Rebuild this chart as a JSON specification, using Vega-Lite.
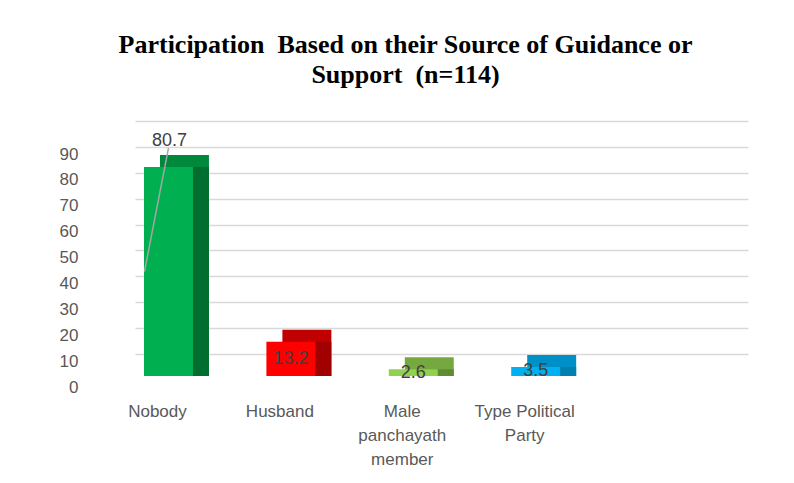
{
  "$schema": "https://vega.github.io/schema/vega-lite/v6.json",
  "autosize": {"type": "none"},
  "padding": {"left": 135, "top": 121, "right": 46, "bottom": 129},
  "width": 613,
  "height": 233,
  "background": "white",
  "title": {
    "text": ["Participation\u00a0 Based on their Source of Guidance or", "Support\u00a0 (n=114)"],
    "font": "Liberation Serif",
    "fontSize": 26,
    "fontWeight": "bold",
    "color": "#000000",
    "anchor": "middle",
    "frame": "group",
    "dx": -36,
    "lineHeight": 30,
    "offset": 33
  },
  "data": {
    "values": [
      {"category": "Nobody", "value": 80.7},
      {"category": "Husband", "value": 13.2},
      {"category": "Male panchayath member", "value": 2.6},
      {"category": "Type Political Party", "value": 3.5}
    ]
  },
  "encoding": {
    "x": {
      "field": "category",
      "type": "nominal",
      "sort": null,
      "scale": {
        "domain": ["Nobody", "Husband", "Male panchayath member", "Type Political Party"],
        "paddingInner": 0.6,
        "paddingOuter": 0.804,
        "align": 0.0457
      },
      "axis": {
        "title": null,
        "labelAngle": 0,
        "domain": false,
        "ticks": false,
        "labelPadding": 49,
        "labelOffset": -11,
        "labelFont": "Liberation Sans",
        "labelFontSize": 17,
        "labelColor": "#595959",
        "labelLineHeight": 24,
        "labelBaseline": "top",
        "labelExpr": "datum.value == 'Male panchayath member' ? ['Male', 'panchayath', 'member'] : datum.value == 'Type Political Party' ? ['Type Political', 'Party'] : datum.value"
      }
    }
  },
  "layer": [
    {
      "mark": {"type": "bar", "xOffset": 16, "x2Offset": 16, "yOffset": 10, "y2Offset": 22},
      "encoding": {
        "y": {
          "field": "value",
          "type": "quantitative",
          "scale": {"domain": [0, 90], "nice": false},
          "axis": {
            "title": null,
            "values": [0, 10, 20, 30, 40, 50, 60, 70, 80, 90],
            "domain": false,
            "ticks": false,
            "grid": true,
            "gridColor": "#d9d9d9",
            "gridWidth": 1.3,
            "labelPadding": 57,
            "labelOffset": 33,
            "labelFont": "Liberation Sans",
            "labelFontSize": 17,
            "labelColor": "#595959"
          }
        },
        "y2": {"datum": 0},
        "color": {
          "field": "category",
          "type": "nominal",
          "legend": null,
          "scale": {
            "domain": ["Nobody", "Husband", "Male panchayath member", "Type Political Party"],
            "range": ["#00883c", "#c00000", "#76a840", "#0090c8"]
          }
        }
      }
    },
    {
      "mark": {"type": "bar", "xOffset": 16, "x2Offset": 16, "yOffset": 22, "y2Offset": 22},
      "encoding": {
        "y": {"field": "value", "type": "quantitative", "scale": {"domain": [0, 90], "nice": false}, "axis": null},
        "y2": {"datum": 0},
        "color": {
          "field": "category",
          "type": "nominal",
          "legend": null,
          "scale": {
            "domain": ["Nobody", "Husband", "Male panchayath member", "Type Political Party"],
            "range": ["#006e30", "#a00000", "#5f8c32", "#0080b0"]
          }
        }
      }
    },
    {
      "mark": {"type": "bar", "yOffset": 22, "y2Offset": 22},
      "encoding": {
        "y": {"field": "value", "type": "quantitative", "scale": {"domain": [0, 90], "nice": false}, "axis": null},
        "y2": {"datum": 0},
        "color": {
          "field": "category",
          "type": "nominal",
          "legend": null,
          "scale": {
            "domain": ["Nobody", "Husband", "Male panchayath member", "Type Political Party"],
            "range": ["#00b050", "#ff0000", "#92d050", "#00b0f0"]
          }
        }
      }
    },
    {
      "transform": [{"filter": "datum.category == 'Nobody'"}],
      "mark": {"type": "rule", "color": "#a6a6a6", "strokeWidth": 1.5, "yOffset": 3, "x2Offset": -24, "y2Offset": 22},
      "encoding": {
        "x2": {"field": "category"},
        "y": {"field": "value", "type": "quantitative", "scale": {"domain": [0, 90], "nice": false}, "axis": null},
        "y2": {"datum": 40.35}
      }
    },
    {
      "transform": [{"filter": "datum.category != 'Nobody'"}],
      "mark": {"type": "text", "yOffset": 22, "font": "Liberation Sans", "fontSize": 18, "color": "#404040", "baseline": "middle", "align": "center"},
      "encoding": {
        "y": {"field": "value", "type": "quantitative", "scale": {"domain": [0, 180], "nice": false}, "axis": null},
        "text": {"field": "value", "type": "quantitative", "format": ".1f"}
      }
    },
    {
      "transform": [{"filter": "datum.category == 'Nobody'"}],
      "mark": {"type": "text", "yOffset": -4, "xOffset": 1, "font": "Liberation Sans", "fontSize": 18, "color": "#404040", "baseline": "middle", "align": "center"},
      "encoding": {
        "y": {"field": "value", "type": "quantitative", "scale": {"domain": [0, 90], "nice": false}, "axis": null},
        "text": {"field": "value", "type": "quantitative", "format": ".1f"}
      }
    }
  ],
  "resolve": {"scale": {"y": "independent", "color": "independent"}},
  "config": {"view": {"stroke": null}}
}
